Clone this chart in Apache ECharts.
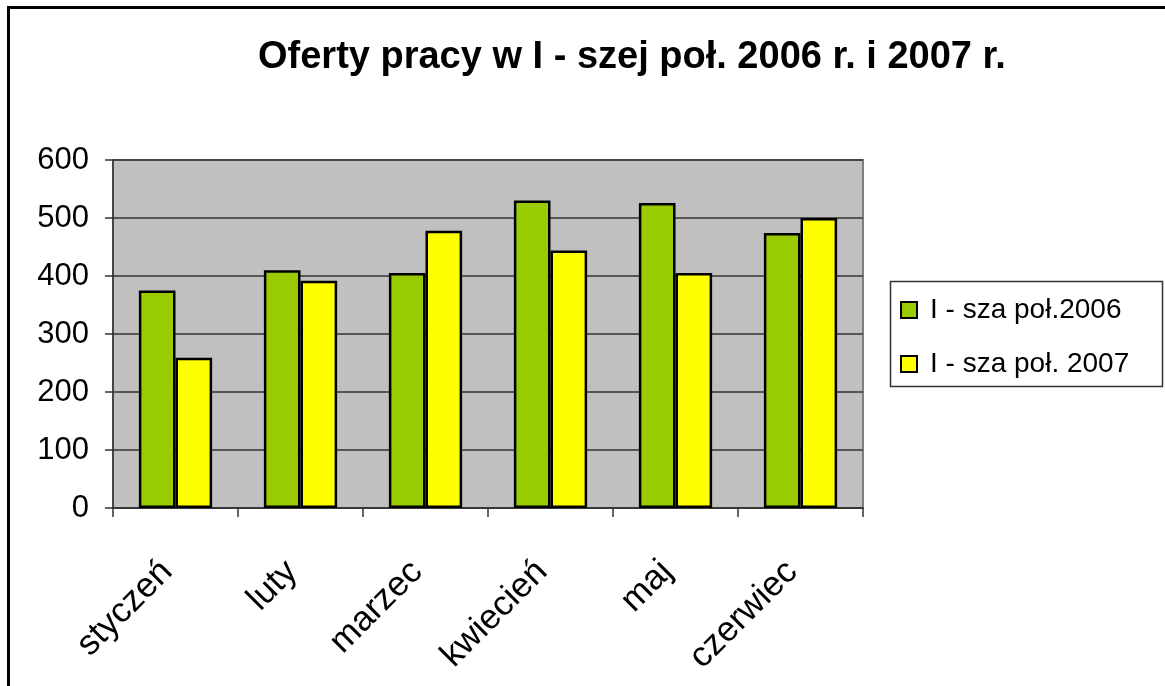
<!DOCTYPE html>
<html>
<head>
<meta charset="utf-8">
<script src="https://cdn.jsdelivr.net/npm/echarts@6/dist/echarts.min.js"></script>
<style>
html,body{margin:0;padding:0;background:#fff;}
#c{width:1165px;height:686px;}
</style>
</head>
<body>
<div id="c"></div>
<script>
const categories = ['styczeń', 'luty', 'marzec', 'kwiecień', 'maj', 'czerwiec'];
const series2006 = [375, 410, 405, 530, 526, 474];
const series2007 = [259, 392, 478, 444, 405, 500];
const seriesNames = ['I - sza poł.2006', 'I - sza poł. 2007'];
const yTicks = { min: 0, max: 600, interval: 100 };
const titleText = 'Oferty pracy w I - szej poł. 2006 r. i 2007 r.';

const FONT = '"Liberation Sans", Arial, sans-serif';
const chart = echarts.init(document.getElementById('c'), null, { renderer: 'canvas' });
chart.setOption({
  animation: false,
  backgroundColor: '#ffffff',
  graphic: [
    { type: 'rect', shape: { x: 8.5, y: 7.5, width: 1300, height: 900 },
      style: { fill: 'none', stroke: '#000', lineWidth: 3 }, z: 100 },
    { type: 'rect', shape: { x: 890.5, y: 281.5, width: 272, height: 105 },
      style: { fill: '#fff', stroke: '#333', lineWidth: 1.5 }, z: 0 }
  ],
  title: {
    text: titleText,
    left: 258, top: 39, padding: 0,
    textStyle: { fontFamily: FONT, fontWeight: 'bold', fontSize: 38, color: '#000' }
  },
  legend: {
    orient: 'vertical',
    left: 900, top: 296,
    padding: 0,
    itemWidth: 16, itemHeight: 16,
    itemGap: 26,
    icon: 'rect',
    textStyle: { fontFamily: FONT, fontSize: 28, color: '#000', lineHeight: 26, padding: [0, 0, 0, 8] },
    data: seriesNames,
    z: 5
  },
  grid: { left: 113, right: 302, top: 160, bottom: 178, show: true,
          backgroundColor: '#c0c0c0', borderColor: '#808080', borderWidth: 2 },
  xAxis: {
    type: 'category',
    data: categories,
    axisLine: { lineStyle: { color: '#333', width: 1.5 } },
    axisTick: { show: true, length: 9, lineStyle: { color: '#333', width: 1.5 } },
    axisLabel: { rotate: 45, fontFamily: FONT, fontSize: 35, color: '#000', margin: 50,
                 padding: [0, 12, 0, 0] }
  },
  yAxis: {
    type: 'value',
    min: yTicks.min, max: yTicks.max, interval: yTicks.interval,
    axisLine: { show: true, lineStyle: { color: '#333', width: 1.5 } },
    axisTick: { show: true, length: 8, lineStyle: { color: '#333', width: 1.5 } },
    axisLabel: { fontFamily: FONT, fontSize: 31, color: '#000', margin: 24 },
    splitLine: { show: true, lineStyle: { color: '#333', width: 1.5 } }
  },
  series: [
    { name: seriesNames[0], type: 'bar', data: series2006,
      barGap: '0%', barCategoryGap: '41.4%',
      itemStyle: { color: '#99cc00', borderColor: '#000', borderWidth: 2.5 } },
    { name: seriesNames[1], type: 'bar', data: series2007,
      barGap: '0%', barCategoryGap: '41.4%',
      itemStyle: { color: '#ffff00', borderColor: '#000', borderWidth: 2.5 } }
  ]
});
</script>
</body>
</html>
